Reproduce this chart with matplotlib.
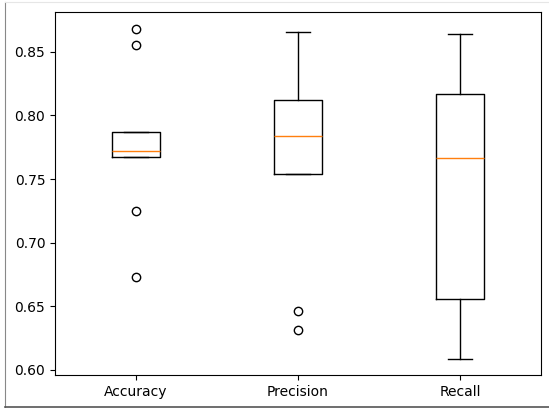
import matplotlib
matplotlib.use("Agg")
import matplotlib.pyplot as plt
from matplotlib.lines import Line2D

labels = ["Accuracy", "Precision", "Recall"]
medians = [0.7717, 0.7836, 0.7663]
q1 = [0.7673, 0.7542, 0.6560]
q3 = [0.7870, 0.8125, 0.8167]
whislo = [0.7673, 0.7542, 0.6089]
whishi = [0.7870, 0.8655, 0.8640]
fliers = [[0.8684, 0.8553, 0.7245, 0.6733], [0.6465, 0.6312], []]

stats = []
for i in range(len(labels)):
    stats.append({
        "label": labels[i],
        "med": medians[i],
        "q1": q1[i],
        "q3": q3[i],
        "whislo": whislo[i],
        "whishi": whishi[i],
        "fliers": fliers[i],
    })

dpi = 100
fig = plt.figure(figsize=(549 / dpi, 408 / dpi), dpi=dpi)
ax = fig.add_axes([55 / 549, 1 - 375 / 408, 486 / 549, 363 / 408])
ax.bxp(stats)

# thin frame seen around the screenshot
fig.add_artist(Line2D([5 / 549, 5 / 549], [0.5 / 408, 1 - 1.5 / 408],
                      transform=fig.transFigure, color="#888888", lw=0.8))
fig.add_artist(Line2D([5 / 549, 1], [1 - 1.5 / 408, 1 - 1.5 / 408],
                      transform=fig.transFigure, color="#e6e6e6", lw=0.8))
fig.add_artist(Line2D([5 / 549, 1], [1.5 / 408, 1.5 / 408],
                      transform=fig.transFigure, color="#555555", lw=1.2))

fig.savefig("out.png", dpi=dpi)
